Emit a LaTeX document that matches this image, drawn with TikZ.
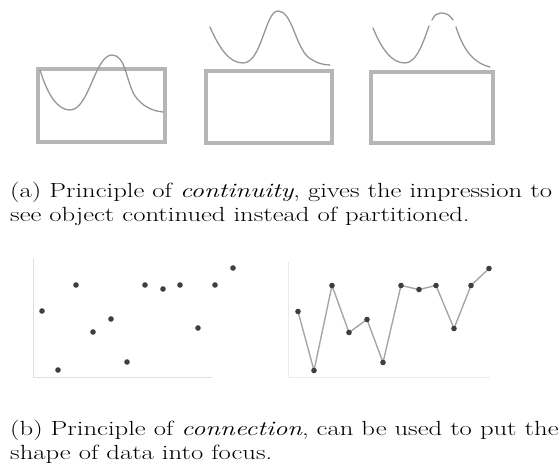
\documentclass[tikz,border=0pt]{standalone}
\usepackage{tikz}
\usepackage{graphicx}
\usepackage{xcolor}
\definecolor{frameGray}{RGB}{182,182,182}
\definecolor{curveGray}{RGB}{150,150,150}
\definecolor{dotGray}{RGB}{62,62,62}
\definecolor{axisGray}{RGB}{222,222,222}
\tikzset{
  frame/.style={draw=frameGray,line width=4.5pt},
  curve/.style={draw=curveGray,line width=1.3pt,line cap=round},
  axis/.style={draw=axisGray,line width=1pt},
  link/.style={draw=curveGray!85,line width=1.4pt,line join=round},
  caption/.style={anchor=base west,align=left,inner sep=0pt,font=\fontsize{20.5}{24}\selectfont}
}
\newcommand{\DataDot}[1]{\fill[dotGray] (#1) circle (2.8pt);}
\newcommand{\WideLine}[1]{\scalebox{1.3}[1]{#1}}

\begin{document}
\begin{tikzpicture}[x=1pt,y=-1pt]
\useasboundingbox (0,0) rectangle (560,465);
\draw[frame] (38,69) rectangle (165,142);
\draw[frame] (206,71) rectangle (332,143);
\draw[frame] (371,72) rectangle (493,143);
\draw[curve] (40,70) .. controls (48,96) and (58,110) .. (70,110) .. controls (89,110) and (95,55) .. (112,55) .. controls (126,55) and (126,82) .. (135,96) .. controls (142,106) and (152,111) .. (163,112);
\draw[curve] (210,27) .. controls (220,50) and (230,63) .. (243,63) .. controls (262,63) and (265,11) .. (278,11) .. controls (292,11) and (295,45) .. (308,57) .. controls (316,63) and (323,65) .. (330,65);
\draw[curve] (373,28) .. controls (382,50) and (392,63) .. (405,63) .. controls (417,63) and (424,40) .. (429,26);
\draw[curve] (432,20) .. controls (435,14) and (438,13) .. (441,13) .. controls (446,13) and (450,15) .. (453,20);
\draw[curve] (456,27) .. controls (462,45) and (470,62) .. (490,67);
\node[caption] (capA) at (10,222) {\WideLine{(a) Principle of \textit{continuity}, gives the impression to}\\\WideLine{see object continued instead of partitioned.}};
\draw[axis] (33,258) -- (33,377) -- (212,377);
\draw[axis,draw=axisGray!60] (288,262) -- (288,377) -- (490,377);
\foreach \n/\x/\y in {1/42/311,2/58/370,3/76/285,4/93/332,5/111/319,6/127/362,7/145/285,8/163/289,9/180/285,10/198/328,11/215/285,12/233/268}{
  \coordinate (p\n) at (\x,\y);
  \coordinate (q\n) at (\x+256,\y+0.5);
}
\draw[link] (q1) -- (q2) -- (q3) -- (q4) -- (q5) -- (q6) -- (q7) -- (q8) -- (q9) -- (q10) -- (q11) -- (q12);
\foreach \n in {1,...,12}{\DataDot{p\n}\DataDot{q\n}}
\node[caption] (capB) at (10,459) {\WideLine{(b) Principle of \textit{connection}, can be used to put the}\\\WideLine{shape of data into focus.}};
\end{tikzpicture}
\end{document}
